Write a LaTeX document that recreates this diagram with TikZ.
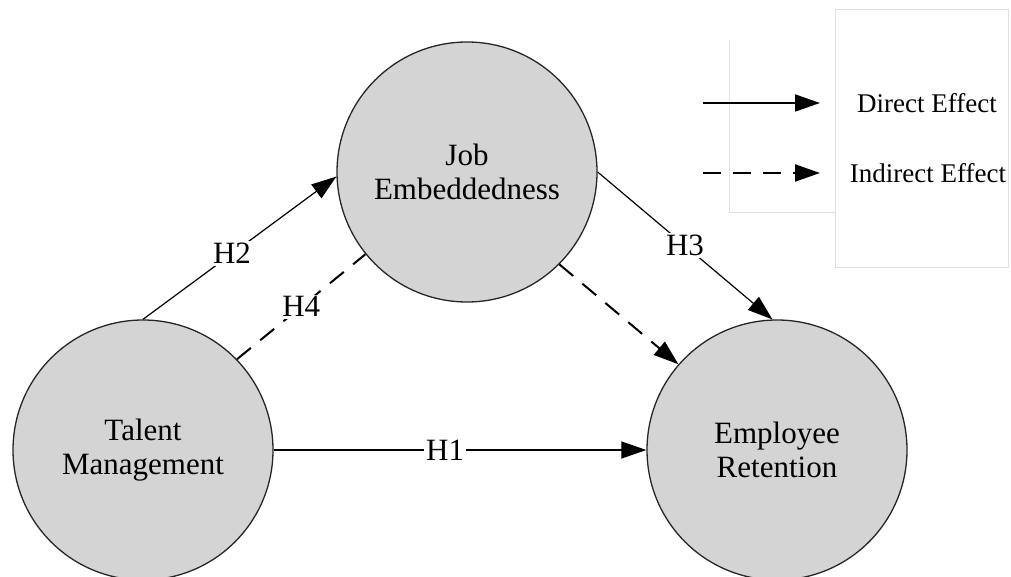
\documentclass[tikz,border=0pt]{standalone}
\usepackage{fontspec}
\setmainfont{Liberation Serif}
\usetikzlibrary{arrows.meta}
\tikzset{
  construct/.style={circle, draw=black!85, line width=1.3pt, fill=black!17,
    minimum size=260pt, inner sep=0pt, align=center,
    font=\fontsize{31}{34}\selectfont},
  effect/.style={line width=1.2pt, -{Triangle[length=25pt,width=17pt]}},
  indirect/.style={line width=2pt, dash pattern=on 18pt off 12pt},
  hyp/.style={fill=white, inner sep=2pt, font=\fontsize{31}{34}\selectfont},
  legendtext/.style={font=\fontsize{27}{32}\selectfont},
  legendframe/.style={draw=black!12, line width=1pt}
}
\begin{document}
\begin{tikzpicture}[x=1pt, y=-1pt]
\useasboundingbox (0,0) rectangle (1011,577);
% constructs
\node[construct] (tm) at (143,450) {Talent\\Management};
\node[construct] (je) at (467,172) {Job\\Embeddedness};
\node[construct] (er) at (777,450) {Employee\\Retention};
% hypotheses
\draw[effect] (tm.east) -- node[hyp, pos=0.46]{H1} (er.west);
\draw[effect] (tm.north) -- node[hyp, pos=0.46]{H2} (je.182);
\draw[effect] (je.0) -- node[hyp]{H3} (er.92);
\draw[indirect] (tm.44) -- node[hyp]{H4} (je.219);
\draw[indirect, effect, line width=2pt] (je.315) -- (er.139);
% legend
\draw[legendframe] (835,10) rectangle (1008,267);
\draw[legendframe] (729,40) -- (729,213) -- (835,213);
\path (703,103) coordinate (d0) (820,103) coordinate (d1)
      (703,173) coordinate (i0) (820,173) coordinate (i1);
\draw[effect, line width=1.8pt] (d0) -- (d1);
\draw[indirect, effect, line width=2pt] (i0) -- (i1);
\node[legendtext] (dtxt) at (927,103) {Direct Effect};
\node[legendtext] (itxt) at (928,173) {Indirect Effect};
\end{tikzpicture}
\end{document}
